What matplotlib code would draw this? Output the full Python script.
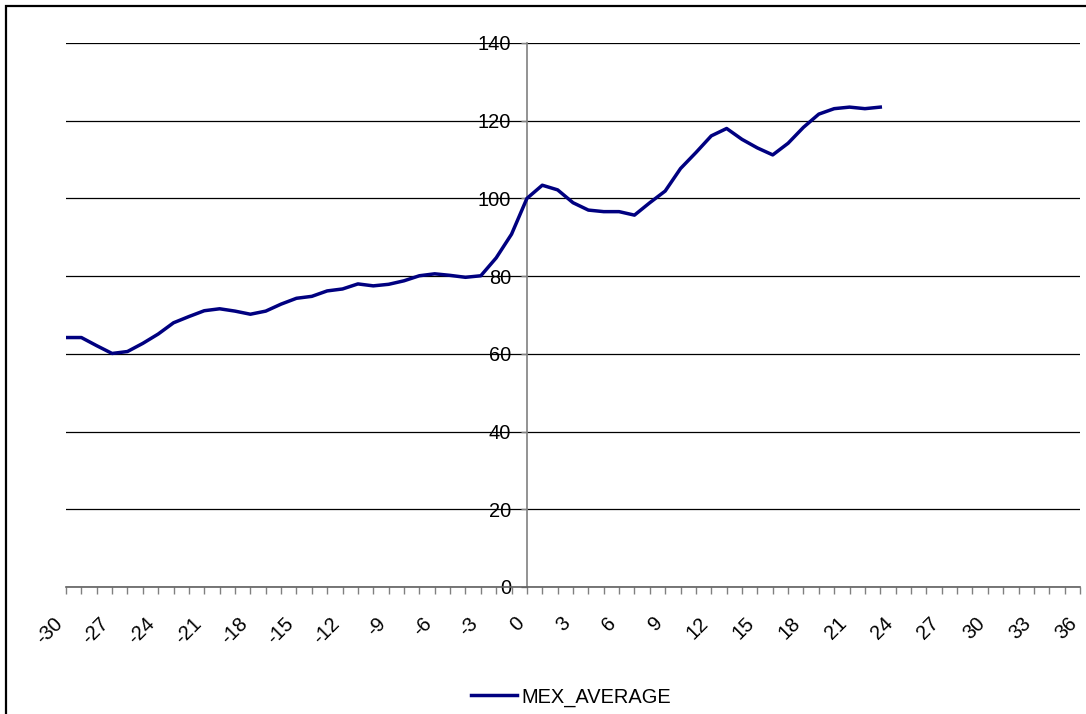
import matplotlib
matplotlib.use("Agg")
import matplotlib.pyplot as plt
import matplotlib.transforms as mtransforms
from matplotlib.patches import Rectangle

plt.rcParams['font.family'] = ['Liberation Sans', 'DejaVu Sans']

# months relative to event (0) and the averaged index
months = list(range(-30, 24))
mex_average = [64.2, 64.2, 62.1, 60.1, 60.6, 62.7, 65.1, 68.0, 69.6, 71.1,
               71.6, 71.0, 70.2, 71.0, 72.8, 74.3, 74.8, 76.2, 76.7, 78.0,
               77.5, 77.9, 78.8, 80.1, 80.6, 80.2, 79.7, 80.1, 84.7, 90.8,
               100.0, 103.4, 102.2, 98.9, 97.0, 96.6, 96.6, 95.7, 98.9, 101.9,
               107.7, 111.8, 116.1, 118.0, 115.2, 113.0, 111.2, 114.2, 118.3, 121.7,
               123.1, 123.5, 123.1, 123.5]
x_ticks = list(range(-30, 37))
x_labels = [str(v) if v % 3 == 0 else '' for v in x_ticks]
y_ticks = [0, 20, 40, 60, 80, 100, 120, 140]

FS = 14.4
W, H = 1086, 714
fig = plt.figure(figsize=(W / 100, H / 100), dpi=100)
ax = fig.add_axes([66 / W, 1 - 587 / H, (1080 - 66) / W, (587 - 43) / H])

ax.plot(months, mex_average, color='#000080', lw=2.5, label='MEX_AVERAGE',
        solid_joinstyle='round', zorder=3)

ax.set_xlim(-30, 36)
ax.set_ylim(0, 140)
ax.set_yticks(y_ticks)
ax.set_xticks(x_ticks)
ax.set_xticklabels(x_labels, rotation=45, ha='right', va='center',
                   rotation_mode='anchor', fontsize=FS)
ax.yaxis.grid(True, color='black', lw=0.9)
ax.set_axisbelow(True)

for s in ['top', 'right']:
    ax.spines[s].set_visible(False)
ax.spines['left'].set_position(('data', 0))
ax.spines['left'].set_color('#808080')
ax.spines['bottom'].set_color('#606060')
ax.spines['left'].set_linewidth(1.2)
ax.spines['bottom'].set_linewidth(1.2)

ax.tick_params(axis='x', direction='out', length=5, width=1, color='#808080',
               pad=19)
ax.tick_params(axis='y', direction='out', length=4.5, width=1, color='#808080',
               pad=7, labelsize=FS)

# shift the rotated labels slightly left of their ticks
shift = mtransforms.ScaledTranslation(-6 / 100, 0, fig.dpi_scale_trans)
for lbl in ax.get_xticklabels():
    lbl.set_transform(lbl.get_transform() + shift)

fig.legend(loc='center', bbox_to_anchor=(571 / W, 1 - 697 / H), frameon=False,
           fontsize=FS, handlelength=2.3, handletextpad=0.2)

# chart area border
fig.patches.append(Rectangle((6 / W, -0.1), 1.2, 1.1 - 6 / H, fill=False,
                             lw=1.6, edgecolor='black',
                             transform=fig.transFigure, figure=fig))

fig.savefig('out.png', dpi=100)
